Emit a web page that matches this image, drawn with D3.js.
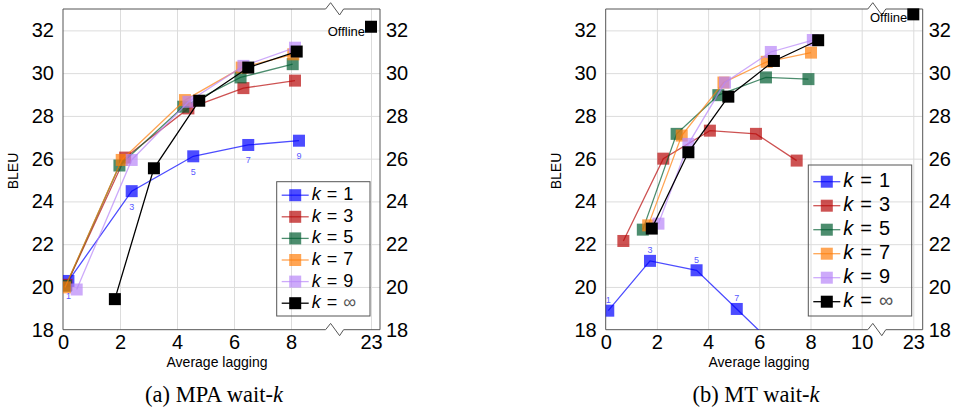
<!DOCTYPE html>
<html><head><meta charset="utf-8">
<script src="https://cdn.jsdelivr.net/npm/d3@7"></script>
<style>
body{margin:0;background:#fff;}
svg{display:block;font-family:"Liberation Sans",Arial,sans-serif;}
</style></head>
<body><svg id="c" width="958" height="414"></svg>
<script>
// ---- data ----
const kLabels = ["1", "3", "5", "7", "9", "∞"];
const seriesColors = ["#0000ff", "#b80808", "#005c30", "#ff7f0c", "#b886f8", "#000000"];
const yTicks = [18, 20, 22, 24, 26, 28, 30, 32];
const mpaXTicks = [0, 2, 4, 6, 8, 23];
const mtXTicks = [0, 2, 4, 6, 8, 10, 23];
// MPA wait-k: average lagging per series (k=1,3,5,7,9,inf)
const mpaLag = [
  [0.19, 2.41, 4.57, 6.50, 8.28],
  [0.12, 2.18, 4.40, 6.33, 8.14],
  [0.10, 1.98, 4.22, 6.23, 8.06],
  [0.07, 2.06, 4.28, 6.27, 8.08],
  [0.48, 2.41, 4.40, 6.33, 8.14],
  [1.82, 3.19, 4.78, 6.50, 8.20]
];
const mpaBleu = [
  [20.28, 24.48, 26.11, 26.64, 26.84],
  [20.10, 26.05, 28.35, 29.30, 29.65],
  [20.05, 25.68, 28.43, 29.80, 30.42],
  [19.98, 25.94, 28.74, 30.26, 30.88],
  [19.88, 25.94, 28.66, 30.34, 31.19],
  [19.43, 25.55, 28.71, 30.26, 31.01]
];
const mpaOffline = [23, 32.17];
// MT wait-k
const mtLag = [
  [0.10, 1.73, 3.55, 5.12, 6.90],
  [0.69, 2.25, 4.07, 5.87, 7.46],
  [1.45, 2.77, 4.40, 6.26, 7.92],
  [1.66, 2.97, 4.60, 6.29, 8.02],
  [2.06, 3.23, 4.66, 6.45, 8.09],
  [1.80, 3.23, 4.79, 6.57, 8.30]
];
const mtBleu = [
  [18.89, 21.22, 20.78, 18.97, 16.91],
  [22.15, 26.00, 27.31, 27.16, 25.91],
  [22.68, 27.16, 28.97, 29.80, 29.72],
  [22.88, 27.08, 29.56, 30.53, 30.96],
  [22.96, 26.69, 29.56, 30.99, 31.55],
  [22.73, 26.30, 28.90, 30.57, 31.54]
];
const mtOffline = [23, 32.75];
const k1PointLabels = ["1", "3", "5", "7", "9"];

// ---- layout ----
const svg = d3.select("#c");
const Y0 = 9, Y1 = 329.7;
const panels = [
  {id: "a", lag: mpaLag, bleu: mpaBleu, off: mpaOffline, ticks: mpaXTicks,
   xdom: [0, 9.53, 23, 23.32], xr: [63, 63 + 9.53 * 28.5, 371, 380], brk: 9.53,
   caption: "MPA", capLetter: "(a)", labelDy: 16, xlabX: 217, bleuX: 14, capX: 214,
   leg: {x: 276.7, y: 181.7, w: 93.3, h: 134.3, row0: 13.5, dy: 21.6, fs: 18, gap: 6},
   offDy: 6},
  {id: "b", lag: mtLag, bleu: mtBleu, off: mtOffline, ticks: mtXTicks,
   xdom: [0, 10.59, 23, 23.37], xr: [605.7, 605.7 + 10.59 * 25.6, 913.3, 922.7], brk: 10.59,
   caption: "MT", capLetter: "(b)", labelDy: -10, xlabX: 759, bleuX: 557, capX: 756,
   leg: {x: 808.3, y: 165, w: 103.4, h: 151, row0: 16.7, dy: 24, fs: 20, gap: 7},
   offDy: 4}
];

const y = d3.scaleLinear().domain([18, 33]).range([Y1, Y0]);

panels.forEach((p, pi) => {
  const x = d3.scaleLinear().domain(p.xdom).range(p.xr);
  const X0 = p.xr[0], X1 = p.xr[3];
  const g = svg.append("g");

  // grid
  g.append("g").attr("transform", `translate(0,${Y1})`)
    .call(d3.axisBottom(x).tickValues(p.ticks.filter(t => t !== 0)).tickSize(-(Y1 - Y0)).tickFormat(""))
    .call(s => { s.select(".domain").remove(); s.selectAll("line").attr("stroke", "#dcdcdc"); });
  g.append("g").attr("transform", `translate(${X0},0)`)
    .call(d3.axisLeft(y).tickValues(yTicks.filter(t => t !== 18)).tickSize(-(X1 - X0)).tickFormat(""))
    .call(s => { s.select(".domain").remove(); s.selectAll("line").attr("stroke", "#dcdcdc"); });

  // tick labels
  const tl = s => { s.select(".domain").remove(); s.selectAll("line").remove();
    s.selectAll("text").attr("font-size", 20).attr("font-family", "Liberation Sans").attr("fill", "#000"); };
  g.append("g").attr("transform", `translate(0,${Y1})`)
    .call(d3.axisBottom(x).tickValues(p.ticks).tickSize(0).tickPadding(5)).call(tl);
  g.append("g").attr("transform", `translate(${X0},0)`)
    .call(d3.axisLeft(y).tickValues(yTicks).tickSize(0).tickPadding(9)).call(tl);
  g.append("g").attr("transform", `translate(${X1},0)`)
    .call(d3.axisRight(y).tickValues(yTicks).tickSize(0).tickPadding(6)).call(tl);

  // frame with break
  const bx = x(p.brk);
  const frame = (yy) => `M${X0},${yy}H${bx - 9}L${bx - 4},${yy - 6.3}L${bx + 5},${yy + 6}L${bx + 9},${yy}H${X1}`;
  g.append("path").attr("d", frame(Y0) + frame(Y1) + `M${X0},${Y0}V${Y1}M${X1},${Y0}V${Y1}`)
    .attr("fill", "none").attr("stroke", "#555").attr("stroke-width", 1);

  // clip
  const cid = "clip" + p.id;
  svg.append("clipPath").attr("id", cid).append("rect")
    .attr("x", X0).attr("y", Y0).attr("width", X1 - X0).attr("height", Y1 - Y0);
  const plot = g.append("g").attr("clip-path", `url(#${cid})`);

  const line = d3.line().x(d => x(d[0])).y(d => y(d[1]));
  const ms = 12;
  p.lag.forEach((xs, si) => {
    const pts = xs.map((v, i) => [v, p.bleu[si][i]]);
    const col = seriesColors[si];
    const op = si === 5 ? 1 : 0.7;
    plot.append("path").datum(pts).attr("d", line).attr("fill", "none")
      .attr("stroke", col).attr("stroke-opacity", op).attr("stroke-width", 1.3);
    plot.selectAll(null).data(pts).enter().append("rect")
      .attr("x", d => x(d[0]) - ms / 2).attr("y", d => y(d[1]) - ms / 2)
      .attr("width", ms).attr("height", ms)
      .attr("fill", col).attr("fill-opacity", op);
  });
  // k=1 point labels
  const k1 = p.lag[0].map((v, i) => [v, p.bleu[0][i], k1PointLabels[i]]);
  plot.selectAll(null).data(k1).enter().append("text")
    .attr("x", d => x(d[0])).attr("y", d => y(d[1]) + p.labelDy)
    .attr("text-anchor", "middle").attr("dominant-baseline", "middle")
    .attr("font-size", 9).attr("fill", "#5a5aff").text(d => d[2]);

  // offline
  g.append("rect").attr("x", x(p.off[0]) - 6).attr("y", y(p.off[1]) - 6).attr("width", 12).attr("height", 12).attr("fill", "#000");
  g.append("text").attr("x", x(p.off[0]) - 6).attr("y", y(p.off[1]) + p.offDy)
    .attr("text-anchor", "end").attr("dominant-baseline", "middle").attr("font-size", 13).text("Offline");

  // legend
  const L = p.leg;
  const lg = g.append("g");
  lg.append("rect").attr("x", L.x).attr("y", L.y).attr("width", L.w).attr("height", L.h)
    .attr("fill", "none").attr("stroke", "#555").attr("stroke-width", 1);
  kLabels.forEach((k, i) => {
    const cy = L.y + L.row0 + i * L.dy;
    const col = seriesColors[i];
    const op = i === 5 ? 1 : 0.7;
    lg.append("line").attr("x1", L.x + 5).attr("x2", L.x + 32).attr("y1", cy).attr("y2", cy)
      .attr("stroke", col).attr("stroke-opacity", op).attr("stroke-width", 1.3);
    lg.append("rect").attr("x", L.x + 18.5 - 6).attr("y", cy - 6).attr("width", 12).attr("height", 12)
      .attr("fill", col).attr("fill-opacity", op);
    const t = lg.append("text").attr("x", L.x + 35).attr("y", cy).attr("dominant-baseline", "middle")
      .attr("font-size", L.fs);
    t.append("tspan").attr("font-style", "italic").text("k");
    t.append("tspan").attr("dx", L.gap).text("=");
    t.append("tspan").attr("dx", L.gap).attr("fill", k === "∞" ? "#555" : "#000").text(k);
  });

  // axis titles
  g.append("text").attr("x", p.xlabX).attr("y", 363).attr("text-anchor", "middle")
    .attr("dominant-baseline", "middle").attr("font-size", 14).text("Average lagging");
  g.append("text").attr("transform", `translate(${p.bleuX},171) rotate(-90)`).attr("text-anchor", "middle")
    .attr("dominant-baseline", "middle").attr("font-size", 14).text("BLEU");

  // caption
  const cap = g.append("text").attr("x", p.capX).attr("y", 397).attr("text-anchor", "middle")
    .attr("dominant-baseline", "middle").attr("font-family", "Liberation Serif").attr("font-size", 22.5);
  cap.append("tspan").text(p.capLetter + " " + p.caption + " wait-");
  cap.append("tspan").attr("font-style", "italic").text("k");
});
</script></body></html>
